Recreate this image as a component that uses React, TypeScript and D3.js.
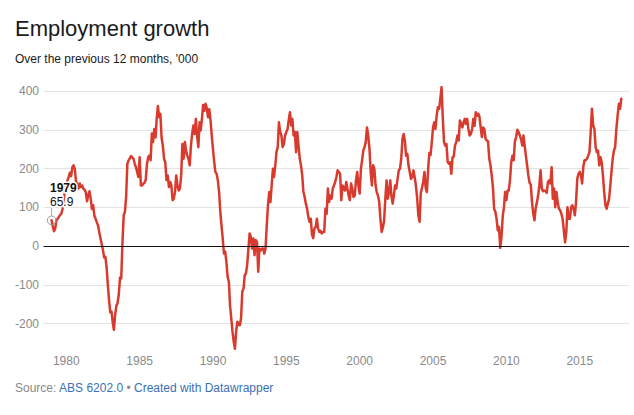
import React from "react";
import * as d3 from "d3";

// Monthly 12-month employment growth ('000), Jan 1979 – Nov 2017
const growth1979to1988 = [
  66, 50, 38, 45, 66, 70, 75, 80, 83, 96, 120, 145,
  160, 169, 178, 189, 180, 203, 208, 199, 165, 160, 148, 161,
  152, 156, 148, 145, 139, 115, 130, 141, 122, 95, 105, 78,
  70, 60, 53, 36, 20, 5, -10, -30, -28, -55, -100, -140,
  -172, -170, -196, -217, -179, -155, -148, -125, -82, -84, 10, 79,
  88, 130, 212, 221, 226, 232, 228, 225, 212, 203, 190, 178,
  229, 156, 156, 160, 163, 170, 210, 229, 233, 221, 290, 268,
  302, 280, 328, 361, 332, 341, 280, 259, 225, 216, 170, 182,
  152, 165, 156, 118, 122, 139, 182, 156, 143, 148, 182, 263,
  225, 268, 246, 233, 225, 208, 259, 290, 311, 289, 328, 285,
];
const growth1989to1998 = [
  255, 319, 298, 328, 364, 349, 367, 355, 332, 353, 324, 285,
  250, 216, 191, 186, 170, 140, 90, 53, 19, -20, -15, -41,
  -80, -93, -153, -187, -221, -247, -266, -220, -196, -204, -205, -187,
  -118, -110, -76, -71, -50, -7, 32, 23, -7, 19, -24, 15,
  10, -67, -7, -12, -7, -7, -20, -7, 53, 105, 139, 113,
  156, 199, 178, 208, 242, 255, 319, 294, 285, 255, 263, 285,
  294, 302, 324, 345, 311, 328, 285, 294, 242, 294, 259, 225,
  208, 182, 140, 126, 109, 96, 75, 62, 70, 30, 20, 45,
  49, 70, 45, 36, 39, 32, 36, 36, 96, 83, 148, 113,
  130, 122, 148, 156, 165, 178, 195, 191, 186, 118, 156, 148,
];
const growth1999to2008 = [
  143, 165, 148, 130, 118, 161, 148, 126, 130, 169, 191, 156,
  135, 199, 221, 246, 255, 268, 306, 285, 251, 191, 156, 208,
  199, 156, 139, 130, 113, 70, 36, 47, 66, 122, 169, 122,
  139, 169, 130, 109, 130, 156, 148, 173, 195, 199, 225, 276,
  289, 270, 233, 238, 208, 191, 173, 178, 195, 178, 156, 125,
  79, 62, 135, 150, 165, 191, 150, 139, 199, 240, 235, 268,
  306, 319, 302, 336, 358, 354, 379, 410, 330, 268, 259, 263,
  216, 212, 216, 186, 229, 231, 259, 268, 285, 272, 324, 317,
  306, 319, 328, 315, 328, 302, 285, 289, 302, 328, 310, 345,
  336, 341, 334, 306, 281, 306, 302, 276, 272, 270, 225, 208,
];
const growth2009to2017 = [
  182, 150, 96, 88, 70, 40, 49, -5, 23, 75, 100, 139,
  118, 143, 143, 170, 216, 233, 221, 270, 281, 300, 294, 285,
  276, 259, 285, 259, 233, 208, 182, 163, 158, 113, 83, 66,
  98, 113, 130, 156, 195, 148, 141, 143, 141, 137, 165, 169,
  161, 203, 122, 148, 100, 139, 113, 96, 92, 83, 70, 40,
  9, 36, 100, 70, 70, 100, 105, 96, 79, 113, 173, 186,
  191, 182, 161, 205, 221, 221, 225, 233, 242, 294, 354, 311,
  302, 255, 242, 246, 208, 229, 216, 182, 139, 105, 96, 109,
  122, 156, 191, 225, 246, 255, 302, 336, 367, 354, 380,
];

const yTicks = [-200, -100, 0, 100, 200, 300, 400];
const xTickYears = [1980, 1985, 1990, 1995, 2000, 2005, 2010, 2015];

const title = "Employment growth";
const subtitle = "Over the previous 12 months, '000";
const annotationYear = "1979";
const annotationValue = "65.9";

const FONT = "'Helvetica Neue', Helvetica, Arial, 'Liberation Sans', sans-serif";

export default function App() {
  const values = [
    ...growth1979to1988,
    ...growth1989to1998,
    ...growth1999to2008,
    ...growth2009to2017,
  ];
  const start = new Date(1979, 0, 1);
  const data = values.map((v, i) => ({ date: d3.timeMonth.offset(start, i), value: v }));
  const end = data[data.length - 1].date;

  const x = d3.scaleTime().domain([start, end]).range([51.6, 621.3]);
  const y = d3.scaleLinear().domain([-200, 400]).range([323.3, 91]);

  const line = d3
    .line<{ date: Date; value: number }>()
    .x((d) => x(d.date))
    .y((d) => y(d.value))
    .curve(d3.curveLinear);

  const gridX0 = 43.5;
  const gridX1 = 629;
  const first = data[0];
  const cx = x(first.date);
  const cy = y(first.value);

  return (
    <svg
      width={634}
      height={415}
      style={{ position: "absolute", left: 0, top: 0, background: "#fff" }}
      fontFamily={FONT}
    >
      <text x={15} y={36} fontSize={22} fill="#1a1a1a">
        {title}
      </text>
      <text x={15} y={63.3} fontSize={12} fill="#1a1a1a">
        {subtitle}
      </text>

      {yTicks.map((t) => (
        <g key={t}>
          {t !== 0 && (
            <line
              x1={gridX0}
              x2={gridX1}
              y1={Math.round(y(t)) + 0.5}
              y2={Math.round(y(t)) + 0.5}
              stroke="#e3e3e3"
              strokeWidth={1}
            />
          )}
          <text
            x={39}
            y={y(t)}
            dy="0.35em"
            textAnchor="end"
            fontSize={12}
            fill="#8a8a8a"
          >
            {t}
          </text>
        </g>
      ))}

      {xTickYears.map((yr) => (
        <text
          key={yr}
          x={x(new Date(yr, 0, 1))}
          y={364.5}
          textAnchor="middle"
          fontSize={12}
          fill="#8a8a8a"
        >
          {yr}
        </text>
      ))}

      <path
        d={line(data) || ""}
        fill="none"
        stroke="#d83a2e"
        strokeWidth={2.5}
        strokeLinejoin="round"
        strokeLinecap="round"
      />

      <line
        x1={gridX0}
        x2={gridX1}
        y1={Math.round(y(0)) + 0.5}
        y2={Math.round(y(0)) + 0.5}
        stroke="#111"
        strokeWidth={1}
      />

      {/* annotation for first point */}
      <line x1={cx} x2={cx} y1={cy - 4.5} y2={208} stroke="#aaa" strokeWidth={1} />
      <circle cx={cx} cy={cy} r={4.3} fill="none" stroke="#999" strokeWidth={1} />
      <g fontSize={12}>
        <text
          x={50}
          y={192}
          fontWeight="bold"
          fill="#111"
          stroke="#fff"
          strokeWidth={3}
          paintOrder="stroke"
        >
          {annotationYear}
        </text>
        <text
          x={50}
          y={205.5}
          fill="#111"
          stroke="#fff"
          strokeWidth={3}
          paintOrder="stroke"
        >
          {annotationValue}
        </text>
      </g>

      <text x={15} y={392} fontSize={12}>
        <tspan fill="#8a8a8a">Source: </tspan>
        <tspan fill="#3a70b5">ABS 6202.0</tspan>
        <tspan fill="#8a8a8a"> • </tspan>
        <tspan fill="#3a70b5">Created with Datawrapper</tspan>
      </text>
    </svg>
  );
}
